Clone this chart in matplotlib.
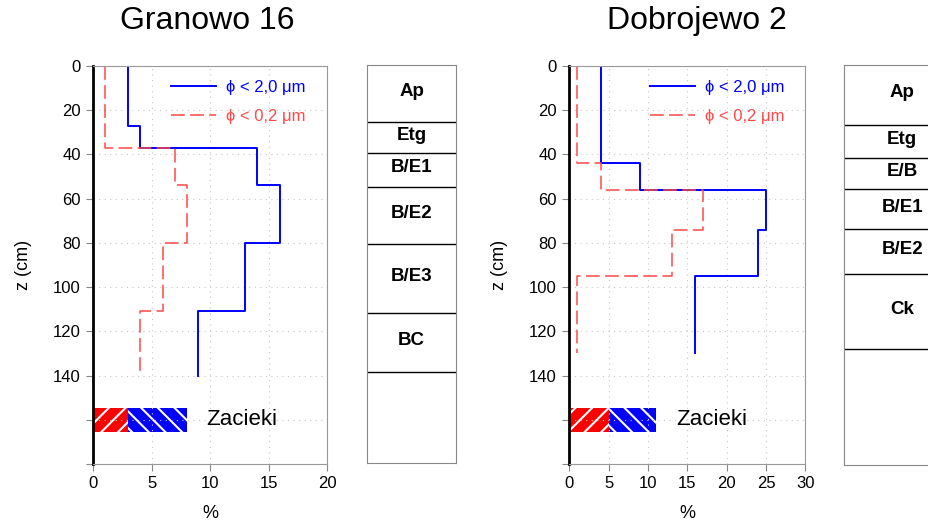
import numpy as np
import matplotlib
matplotlib.use("Agg")
import matplotlib.pyplot as plt

plt.rcParams['font.family'] = ['Liberation Sans', 'DejaVu Sans']
plt.rcParams['hatch.linewidth'] = 1.5

# profile data: layer boundaries (cm) and clay content (%)
gran_z_fine = [0, 27, 37, 54, 80, 111, 140]
gran_fine = [3, 4, 14, 16, 13, 9]          # phi < 2,0 um
gran_z_vfine = [0, 37, 54, 80, 111, 140]
gran_vfine = [1, 7, 8, 6, 4]               # phi < 0,2 um
gran_spots = [3, 5]                        # Zacieki: red part, blue part

dob_z_fine = [0, 44, 56, 74, 95, 130]
dob_fine = [4, 9, 25, 24, 16]
dob_z_vfine = [0, 44, 56, 74, 95, 130]
dob_vfine = [1, 4, 17, 13, 1]
dob_spots = [5, 6]

gran_horizons = ['Ap', 'Etg', 'B/E1', 'B/E2', 'B/E3', 'BC']
gran_hz_bounds = [0, 26, 40, 55, 81, 112, 139]
dob_horizons = ['Ap', 'Etg', 'E/B', 'B/E1', 'B/E2', 'Ck']
dob_hz_bounds = [0, 27, 42, 56, 74, 94, 128]

spot_depth = 160
W, H = 929, 525


def step_profile(bounds, vals):
    # vertical profile: each layer drawn as a vertical segment
    z = np.repeat(bounds, 2)[1:-1]
    x = np.repeat(vals, 2)
    return x, z


def px_axes(fig, x0, y0, x1, y1):
    return fig.add_axes([x0 / W, 1 - y1 / H, (x1 - x0) / W, (y1 - y0) / H])


def profile_plot(ax, zf, f, zv, v, spots, xmax):
    x, z = step_profile(zf, f)
    ax.plot(x, z, color='#0000ff', lw=1.4, label='ϕ < 2,0 μm')
    x, z = step_profile(zv, v)
    ax.plot(x, z, color='#ff4848', lw=1.1, dashes=(9, 3.5), label='ϕ < 0,2 μm')

    ax.barh(spot_depth, spots[0], left=0, height=11, color='red',
            edgecolor='white', hatch='//', lw=0)
    ax.barh(spot_depth, spots[1], left=spots[0], height=11, color='blue',
            edgecolor='white', hatch='\\\\', lw=0)
    ax.text(sum(spots) + 1.7 * xmax / 20, spot_depth, 'Zacieki', fontsize=16,
            va='center', ha='left')

    ax.set_xlim(0, xmax)
    ax.set_ylim(180, 0)
    ax.set_xticks(np.arange(0, xmax + 1, 5))
    ax.set_yticks(np.arange(0, 181, 20))
    ax.set_yticklabels([str(t) if t <= 140 else '' for t in range(0, 181, 20)])
    ax.tick_params(labelsize=12, color='#888888', length=5, pad=4)
    ax.grid(True, color='#c8c8c8', lw=0.8, ls=(0, (1, 4)))
    for s in ['top', 'right', 'bottom']:
        ax.spines[s].set_color('#999999')
    ax.spines['left'].set_color('black')
    ax.spines['left'].set_linewidth(2)
    ax.set_xlabel('%', fontsize=13, labelpad=10)
    ax.set_ylabel('z (cm)', fontsize=13, labelpad=15)
    ax.legend(loc='upper right', bbox_to_anchor=(0.96, 0.995), frameon=False,
              fontsize=12, handlelength=2.7, labelspacing=0.85,
              borderaxespad=0.3, labelcolor='linecolor', handletextpad=0.6)


def horizon_box(ax, names, bounds):
    ax.set_xlim(0, 1)
    ax.set_ylim(180, 0)
    for b in bounds[1:]:
        ax.axhline(b, color='black', lw=1)
    for name, top, bot in zip(names, bounds[:-1], bounds[1:]):
        ax.text(0.5, (top + bot) / 2 - 1, name, ha='center', va='center',
                fontsize=13.5, fontweight='bold')
    ax.set_xticks([])
    ax.set_yticks([])
    for s in ax.spines.values():
        s.set_color('#888888')


fig = plt.figure(figsize=(W / 100, H / 100), dpi=100)

ax1 = px_axes(fig, 93.3, 66, 327, 464)
profile_plot(ax1, gran_z_fine, gran_fine, gran_z_vfine, gran_vfine, gran_spots, 20)
ax2 = px_axes(fig, 569.3, 66, 805.3, 464)
profile_plot(ax2, dob_z_fine, dob_fine, dob_z_vfine, dob_vfine, dob_spots, 30)

bx1 = px_axes(fig, 367, 65, 456.5, 463)
horizon_box(bx1, gran_horizons, gran_hz_bounds)
bx2 = px_axes(fig, 844.3, 65, 960, 465)
horizon_box(bx2, dob_horizons, dob_hz_bounds)

fig.text(207 / W, 1 - 21 / H, 'Granowo 16', fontsize=23, ha='center', va='center')
fig.text(697 / W, 1 - 21 / H, 'Dobrojewo 2', fontsize=23, ha='center', va='center')

fig.savefig('out.png', dpi=100)
